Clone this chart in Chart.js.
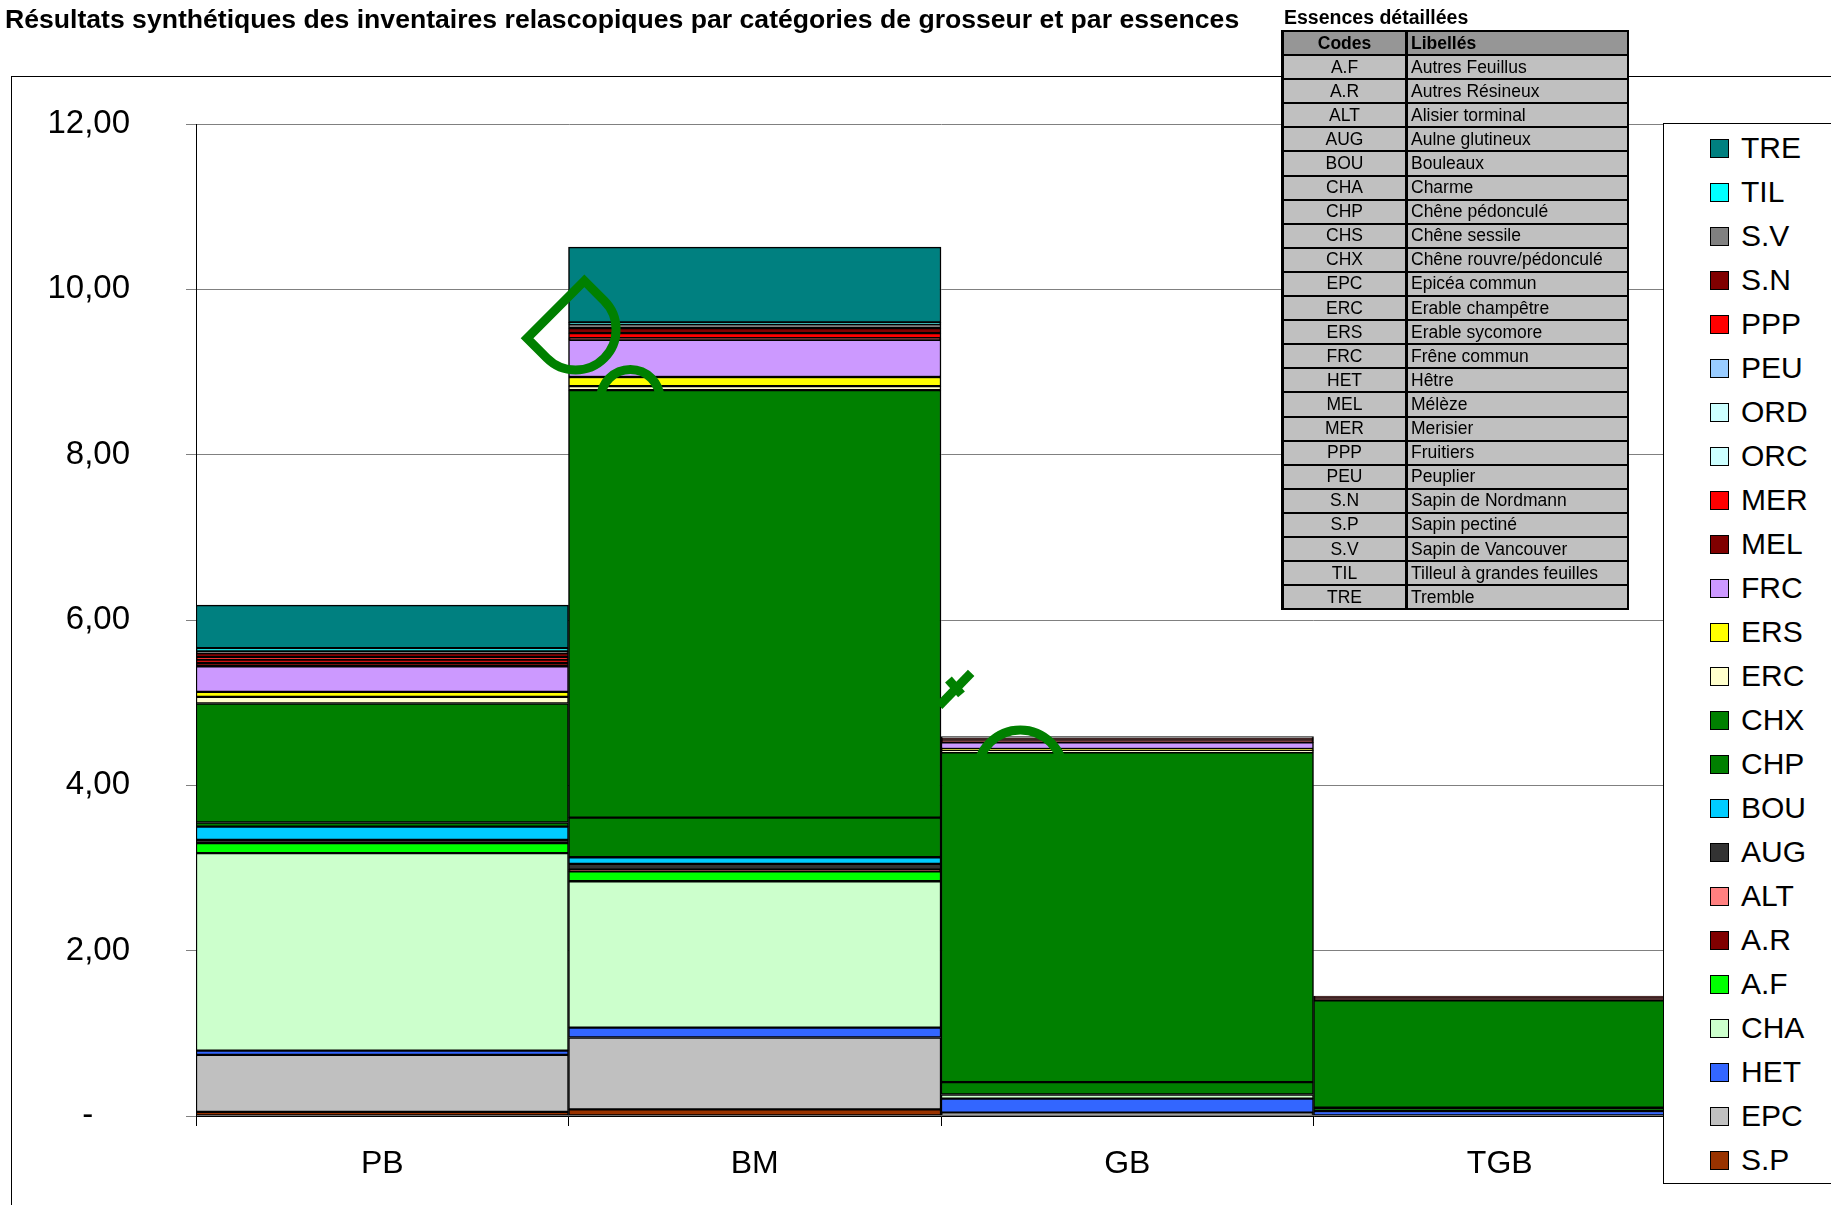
<!DOCTYPE html>
<html>
<head>
<meta charset="utf-8">
<script src="https://cdn.jsdelivr.net/npm/chart.js@4/dist/chart.umd.min.js"></script>
<style>
  html, body { margin: 0; padding: 0; background: #fff; }
  body { width: 1831px; height: 1205px; position: relative; overflow: hidden; font-family: "Liberation Sans", Arial, sans-serif; color: #000; }
  #frame { position: absolute; left: 11px; top: 76px; width: 1900px; height: 1200px; border-left: 1px solid #000; border-top: 1px solid #000; }
  #chart { position: absolute; left: 0; top: 0; }
  #title { position: absolute; left: 5px; top: 4px; margin: 0; font-size: 26.6px; font-weight: bold; white-space: nowrap; }
  #tableTitle { position: absolute; left: 1284px; top: 6px; font-size: 19.5px; font-weight: bold; white-space: nowrap; }
  #codes { position: absolute; left: 1281px; top: 30px; width: 348px; border-collapse: collapse; font-size: 17.5px; }
  #codes tr { height: 24.1px; }
  #codes td { border: 2px solid #000; padding: 0 3px; line-height: 19px; background: #c0c0c0; white-space: nowrap; }
  #codes td:first-child { text-align: center; width: 115px; border-left-width: 3px; border-right-width: 3px; }
  #codes tr.head td { background: #969696; font-weight: bold; }
  #legend { position: absolute; left: 1663px; top: 123px; width: 300px; height: 1059px; border: 1px solid #000; background: #fff; }
  #legend .item { position: absolute; left: 0; height: 44px; display: flex; align-items: center; font-size: 30px; white-space: nowrap; }
  #legend .sw { width: 17px; height: 17px; border: 1px solid #000; margin-left: 46px; margin-right: 12px; }
</style>
</head>
<body>
<div id="frame"></div>
<canvas id="chart" width="1831" height="1205"></canvas>
<div id="title">Résultats synthétiques des inventaires relascopiques par catégories de grosseur et par essences</div>
<div id="tableTitle">Essences détaillées</div>
<table id="codes"></table>
<div id="legend"></div>
<script>
const categories = ["PB", "BM", "GB", "TGB"]

// series, stacked from the bottom up
const speciesCodes = ["S.P", "EPC", "HET", "CHA", "A.F", "A.R", "ALT", "AUG", "BOU", "CHP", "CHX", "ERC",
  "ERS", "FRC", "MEL", "MER", "ORC", "ORD", "PEU", "PPP", "S.N", "S.V", "TIL", "TRE"]
const speciesColors = ["#993300", "#c0c0c0", "#3366ff", "#ccffcc", "#00ff00", "#800000", "#ff8080", "#333333",
  "#00ccff", "#008000", "#008000", "#ffffcc", "#ffff00", "#cc99ff", "#800000", "#ff0000", "#ccffff", "#ccffff",
  "#99ccff", "#ff0000", "#800000", "#808080", "#00ffff", "#008080"]

// values per category PB, BM, GB, TGB
const valSP  = [0.05, 0.08, 0,    0]
const valEPC = [0.69, 0.87, 0.04, 0]
const valHET = [0.05, 0.12, 0.17, 0.06]
const valCHA = [2.39, 1.77, 0.05, 0]
const valAF  = [0.12, 0.12, 0,    0]
const valAR  = [0,    0.02, 0,    0]
const valALT = [0,    0,    0,    0]
const valAUG = [0.04, 0.07, 0,    0]
const valBOU = [0.16, 0.08, 0,    0]
const valCHP = [0.05, 0.48, 0.15, 0.04]
const valCHX = [1.44, 5.17, 3.99, 1.30]
const valERC = [0.08, 0.05, 0.02, 0]
const valERS = [0.06, 0.11, 0.02, 0]
const valFRC = [0.31, 0.45, 0.08, 0]
const valMEL = [0.04, 0.02, 0.03, 0.03]
const valMER = [0.04, 0.06, 0,    0]
const valORC = [0,    0,    0,    0]
const valORD = [0,    0,    0,    0]
const valPEU = [0,    0,    0,    0]
const valPPP = [0.03, 0,    0,    0]
const valSN  = [0.05, 0.06, 0.02, 0.02]
const valSV  = [0.02, 0.05, 0.02, 0]
const valTIL = [0.04, 0.02, 0,    0]
const valTRE = [0.52, 0.91, 0,    0]
const speciesValues = [valSP, valEPC, valHET, valCHA, valAF, valAR, valALT, valAUG, valBOU, valCHP, valCHX, valERC,
  valERS, valFRC, valMEL, valMER, valORC, valORD, valPEU, valPPP, valSN, valSV, valTIL, valTRE]

const yTicks = [0, 2, 4, 6, 8, 10, 12]

// code table shown above the chart
const tableCodes = ["A.F", "A.R", "ALT", "AUG", "BOU", "CHA", "CHP", "CHS", "CHX", "EPC", "ERC", "ERS",
  "FRC", "HET", "MEL", "MER", "PPP", "PEU", "S.N", "S.P", "S.V", "TIL", "TRE"]
const tableLabels = ["Autres Feuillus", "Autres Résineux", "Alisier torminal", "Aulne glutineux", "Bouleaux",
  "Charme", "Chêne pédonculé", "Chêne sessile", "Chêne rouvre/pédonculé", "Epicéa commun", "Erable champêtre",
  "Erable sycomore", "Frêne commun", "Hêtre", "Mélèze", "Merisier", "Fruitiers", "Peuplier", "Sapin de Nordmann",
  "Sapin pectiné", "Sapin de Vancouver", "Tilleul à grandes feuilles", "Tremble"]

// green drawing shapes lying over the chart (category index / axis value)
const dropShape = { x: 0.519, y: 9.515, r: 0.49, arm: 0.34 }
const rings = [{ x: 0.666, y: 8.67, r: 0.36 }, { x: 1.713, y: 4.15, r: 0.52 }]
const strokes = [[[1.495, 4.96], [1.581, 5.36]], [[1.52, 5.28], [1.555, 5.10]]]

const FONT = '"Liberation Sans", Arial, sans-serif'

const table = document.getElementById("codes")
let html = '<tr class="head"><td>Codes</td><td>Libellés</td></tr>'
tableCodes.forEach((c, i) => {
  html += "<tr><td>" + c + "</td><td>" + tableLabels[i] + "</td></tr>"
})
table.innerHTML = html

const datasets = speciesCodes.map((code, i) => ({
  label: code,
  data: speciesValues[i],
  backgroundColor: speciesColors[i],
  borderColor: "#000",
  borderWidth: 1.5,
  borderSkipped: false,
  barPercentage: 1,
  categoryPercentage: 1
}))

const decor = {
  id: "decor",
  afterDatasetsDraw(chart) {
    const ctx = chart.ctx
    const xs = chart.scales.x, ys = chart.scales.y
    const unit = ys.getPixelForValue(0) - ys.getPixelForValue(1)
    const px = (p) => [xs.getPixelForValue(p[0]), ys.getPixelForValue(p[1])]
    ctx.save()
    ctx.strokeStyle = "#008000"
    ctx.lineWidth = 9
    ctx.lineJoin = "miter"

    const [cx, cy] = px([dropShape.x, dropShape.y])
    const r = dropShape.r * unit, a = dropShape.arm * unit
    const k = Math.SQRT1_2
    const mx = cx - a * k, my = cy - a * k
    ctx.beginPath()
    ctx.moveTo(mx + r * k, my - r * k)
    ctx.lineTo(mx - r * k, my + r * k)
    ctx.arc(cx, cy, r, 0.75 * Math.PI, -0.25 * Math.PI, true)
    ctx.closePath()
    ctx.stroke()

    rings.forEach(g => {
      const [gx, gy] = px([g.x, g.y])
      ctx.beginPath()
      ctx.arc(gx, gy, g.r * unit, 0, Math.PI * 2)
      ctx.stroke()
    })
    strokes.forEach(s => {
      const p0 = px(s[0]), p1 = px(s[1])
      ctx.beginPath()
      ctx.moveTo(p0[0], p0[1])
      ctx.lineTo(p1[0], p1[1])
      ctx.stroke()
    })
    ctx.restore()
  }
}

const chart = new Chart(document.getElementById("chart"), {
  type: "bar",
  data: { labels: categories, datasets: datasets },
  options: {
    responsive: false,
    animation: false,
    layout: { padding: { top: 124, right: 145, left: 0, bottom: 0 } },
    plugins: { legend: { display: false }, tooltip: { enabled: false } },
    scales: {
      x: {
        stacked: true,
        grid: { offset: true, drawOnChartArea: false, drawTicks: true, tickLength: 10, color: "#000" },
        border: { color: "#000" },
        ticks: { color: "#000", font: { family: FONT, size: 32 }, padding: 19 },
        afterFit: (s) => { s.height = 89 }
      },
      y: {
        stacked: true,
        min: 0,
        max: 12,
        afterBuildTicks: (s) => { s.ticks = yTicks.map(v => ({ value: v })) },
        grid: { color: "#808080", tickLength: 10 },
        border: { color: "#000" },
        ticks: {
          color: "#000",
          font: { family: FONT, size: 33 },
          padding: 56,
          callback: (v) => v === 0 ? "-    " : v.toFixed(2).replace(".", ",")
        },
        afterFit: (s) => { s.width = 196 }
      }
    }
  },
  plugins: [decor]
})

// legend box, top entry = last series
const legend = document.getElementById("legend")
chart.data.datasets.slice().reverse().forEach((ds, i) => {
  const item = document.createElement("div")
  item.className = "item"
  item.style.top = (2 + i * 44) + "px"
  item.innerHTML = '<span class="sw" style="background:' + ds.backgroundColor + '"></span>' + ds.label
  legend.appendChild(item)
})
</script>
</body>
</html>
